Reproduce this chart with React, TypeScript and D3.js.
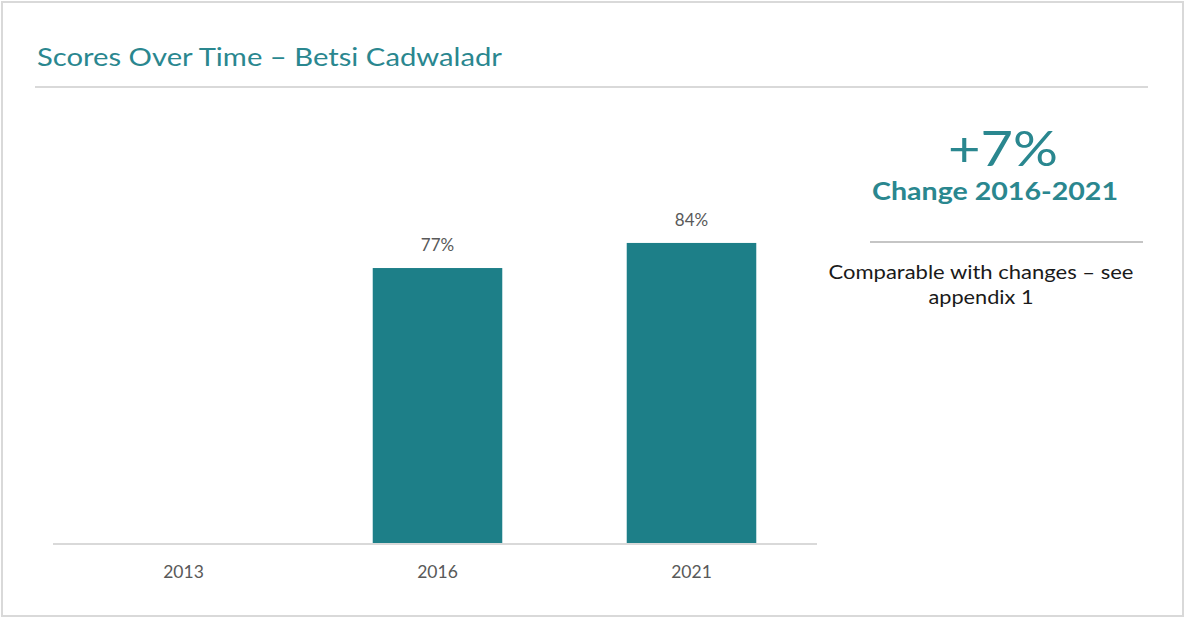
import React from "react";
import * as d3 from "d3";

const categories = ["2013", "2016", "2021"];
const values: (number | null)[] = [null, 77, 84];
const title = "Scores Over Time – Betsi Cadwaladr";
const bigStat = "+7%";
const statLabel = "Change 2016-2021";
const noteLines = ["Comparable with changes – see", "appendix 1"];

const W = 1185;
const H = 618;
const TEAL = "#1d7f88";
const TITLE_TEAL = "#2a878f";
const FONT = "Lato, 'Open Sans', sans-serif";

export default function App() {
  const x = d3.scaleBand<string>().domain(categories).range([56.5, 818.5]).paddingInner(0.49).paddingOuter(0.245);
  const y = d3.scaleLinear().domain([0, 100]).range([544, 185.6]);
  const bw = x.bandwidth();
  return (
    <svg width={W} height={H} style={{ position: "absolute", left: 0, top: 0, background: "#fff" }} fontFamily={FONT}>
      <rect x={2} y={2} width={W - 4} height={H - 4} fill="#fff" stroke="#d9d9d9" strokeWidth={2} />
      <text x={37} y={66} fontSize={25.5} fill={TITLE_TEAL} textLength={465} lengthAdjust="spacingAndGlyphs">{title}</text>
      <line x1={35} x2={1148} y1={87} y2={87} stroke="#d9d9d9" strokeWidth={2} />
      {categories.map((c, i) => {
        const v = values[i];
        const cx = (x(c) as number) + bw / 2;
        return (
          <g key={c}>
            {v != null && (
              <>
                <rect x={x(c)} y={y(v)} width={bw} height={y(0) - y(v)} fill={TEAL} />
                <text x={cx} y={y(v) - 17} textAnchor="middle" fontSize={17} fill="#595959">{`${v}%`}</text>
              </>
            )}
            <text x={cx} y={578} textAnchor="middle" fontSize={17.5} fill="#595959">{c}</text>
          </g>
        );
      })}
      <line x1={53} x2={817} y1={y(0)} y2={y(0)} stroke="#d9d9d9" strokeWidth={2} />
      <text x={1003} y={166} textAnchor="middle" fontSize={49} fill={TITLE_TEAL} textLength={110} lengthAdjust="spacingAndGlyphs">{bigStat}</text>
      <text x={995} y={200} textAnchor="middle" fontSize={25.5} fontWeight="bold" fill={TITLE_TEAL} textLength={246} lengthAdjust="spacingAndGlyphs">{statLabel}</text>
      <line x1={870} x2={1143} y1={242} y2={242} stroke="#8c8c8c" strokeWidth={1.2} />
      <text x={981} y={279} textAnchor="middle" fontSize={19.5} fill="#1a1a1a" textLength={305} lengthAdjust="spacingAndGlyphs">{noteLines[0]}</text>
      <text x={981} y={304} textAnchor="middle" fontSize={19.5} fill="#1a1a1a" textLength={105} lengthAdjust="spacingAndGlyphs">{noteLines[1]}</text>
    </svg>
  );
}
